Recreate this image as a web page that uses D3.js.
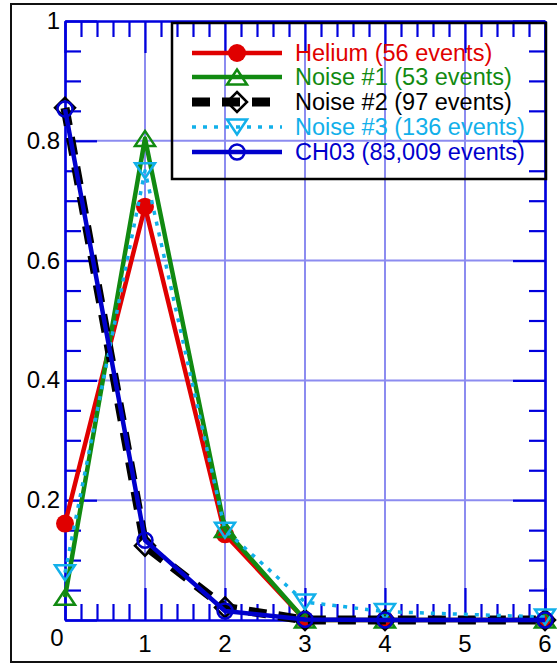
<!DOCTYPE html>
<html><head><meta charset="utf-8">
<script src="https://cdn.jsdelivr.net/npm/d3@7"></script>
<style>html,body{margin:0;padding:0;background:#fff}svg{display:block}</style>
</head><body>
<script>
const xVals = [0, 1, 2, 3, 4, 6];
const helium = [0.161, 0.690, 0.143, 0, 0, 0];
const noise1 = [0.038, 0.804, 0.151, 0, 0, 0];
const noise2 = [0.855, 0.124, 0.021, 0, 0, 0];
const noise3 = [0.079, 0.750, 0.150, 0.030, 0.014, 0.005];
const ch03   = [0.853, 0.133, 0.015, 0.001, 0, 0];
const seriesNames = ["Helium (56 events)", "Noise #1 (53 events)", "Noise #2 (97 events)", "Noise #3 (136 events)", "CH03 (83,009 events)"];
const xTickLabels = ["0", "1", "2", "3", "4", "5", "6"];
const yTickLabels = ["0.2", "0.4", "0.6", "0.8", "1"];

const W = 557, H = 665;
const svg = d3.select("body").append("svg").attr("width", W).attr("height", H);
const font = "'Liberation Sans', Arial, sans-serif";

const x = d3.scaleLinear().domain([0, 6]).range([65, 545]);
const y = d3.scaleLinear().domain([0, 1]).range([620, 21]);

// outer frame
svg.append("rect").attr("x", 11).attr("y", 4).attr("width", 560).attr("height", 658)
  .attr("fill", "none").attr("stroke", "#111").attr("stroke-width", 2);

const axisCol = "#0000dd", gridCol = "#8c8cf0";

// grid
const g = svg.append("g");
g.selectAll(".gx").data(d3.range(1, 6)).join("line")
  .attr("x1", d => x(d)).attr("x2", d => x(d)).attr("y1", y(0)).attr("y2", y(1))
  .attr("stroke", gridCol).attr("stroke-width", 2);
g.selectAll(".gy").data([0.2, 0.4, 0.6, 0.8]).join("line")
  .attr("y1", d => y(d)).attr("y2", d => y(d)).attr("x1", x(0)).attr("x2", x(6))
  .attr("stroke", gridCol).attr("stroke-width", 2);

// axes (ticks inward)
const majX = d3.range(0, 7), minX = d3.range(0, 30.5).map(i => i * 0.2).filter(v => Math.abs(v - Math.round(v)) > 1e-6);
const majY = [0, 0.2, 0.4, 0.6, 0.8, 1], minY = d3.range(0, 20.5).map(i => i * 0.05).filter(v => Math.abs(v * 5 - Math.round(v * 5)) > 1e-6);

function styleAxis(sel) {
  sel.selectAll("path").attr("stroke", axisCol).attr("stroke-width", 2.2);
  sel.selectAll("line").attr("stroke", axisCol).attr("stroke-width", 2.2);
  sel.selectAll("text").remove();
}
const axes = [
  [d3.axisBottom(x), `translate(0,${y(0)})`, majX, minX],
  [d3.axisTop(x), `translate(0,${y(1)})`, majX, minX],
  [d3.axisLeft(y), `translate(${x(0)},0)`, majY, minY],
  [d3.axisRight(y), `translate(${x(6)},0)`, majY, minY]
];
axes.forEach(([ax, tr, maj, min]) => {
  svg.append("g").attr("transform", tr)
    .call(ax.tickValues(min).tickSizeInner(-16).tickSizeOuter(0).tickFormat("")).call(styleAxis);
  svg.append("g").attr("transform", tr)
    .call(ax.tickValues(maj).tickSizeInner(-32).tickSizeOuter(0).tickFormat("")).call(styleAxis);
});

// tick labels
const lab = svg.append("g").attr("font-family", font).attr("font-size", 24).attr("fill", "#000");
lab.selectAll(".xl").data(xTickLabels).join("text")
  .attr("x", (d, i) => i === 0 ? x(i) - 8 : x(i)).attr("y", (d, i) => i === 0 ? 646 : 652)
  .attr("text-anchor", "middle").text(d => d);
lab.selectAll(".yl").data(yTickLabels).join("text")
  .attr("x", 60).attr("y", (d, i) => y(+d) + 8)
  .attr("text-anchor", "end").text(d => d);

// series
const series = [
  { v: helium, color: "#e00000", text: "#e00000", w: 4.5, dash: null, marker: "circleFill" },
  { v: noise1, color: "#118a11", text: "#118a11", w: 4.5, dash: null, marker: "triUp" },
  { v: noise2, color: "#000000", text: "#000000", w: 9, dash: "18 12", marker: "diamond" },
  { v: noise3, color: "#12b0ea", text: "#12b0ea", w: 3.5, dash: "4 7", marker: "triDown" },
  { v: ch03, color: "#0000cc", text: "#0000cc", w: 4.5, dash: null, marker: "circle" }
];

function drawMarker(sel, type, color) {
  if (type === "circleFill") {
    sel.append("circle").attr("r", 9).attr("fill", color).attr("stroke", "none");
  } else if (type === "circle") {
    sel.append("circle").attr("r", 7.5).attr("fill", "none").attr("stroke", color).attr("stroke-width", 2.5);
  } else if (type === "triUp") {
    sel.append("path").attr("d", "M0,-7.5L10,7.5L-10,7.5Z").attr("fill", "none").attr("stroke", color).attr("stroke-width", 2.5);
  } else if (type === "triDown") {
    sel.append("path").attr("d", "M0,7.5L10,-7.5L-10,-7.5Z").attr("fill", "none").attr("stroke", color).attr("stroke-width", 2.5);
  } else if (type === "diamond") {
    sel.append("path").attr("d", "M0,-10L10,0L0,10L-10,0Z").attr("fill", "none").attr("stroke", color).attr("stroke-width", 2.5);
  }
}

const line = d3.line().x(d => x(d[0])).y(d => y(d[1]));
series.forEach(s => {
  const pts = xVals.map((xv, i) => [xv, s.v[i]]);
  svg.append("path").datum(pts).attr("d", line).attr("fill", "none")
    .attr("stroke", s.color).attr("stroke-width", s.w)
    .attr("stroke-dasharray", s.dash).attr("stroke-linejoin", "round");
  pts.forEach(p => {
    const m = svg.append("g").attr("transform", `translate(${x(p[0])},${y(p[1])})`);
    drawMarker(m, s.marker, s.color);
  });
});

// legend
const lg = svg.append("g");
lg.append("rect").attr("x", 172).attr("y", 23).attr("width", 374).attr("height", 156)
  .attr("fill", "none").attr("stroke", "#000").attr("stroke-width", 2.5);
const rowY = [53, 77, 102, 127, 152];
series.forEach((s, i) => {
  const ry = rowY[i];
  lg.append("line").attr("x1", 192).attr("x2", 282).attr("y1", ry).attr("y2", ry)
    .attr("stroke", s.color).attr("stroke-width", s.w).attr("stroke-dasharray", s.dash);
  drawMarker(lg.append("g").attr("transform", `translate(237,${ry})`), s.marker, s.color);
  lg.append("text").attr("x", 295).attr("y", ry + 8).attr("font-family", font)
    .attr("font-size", 23.5).attr("fill", s.text).text(seriesNames[i]);
});
</script>
</body></html>
